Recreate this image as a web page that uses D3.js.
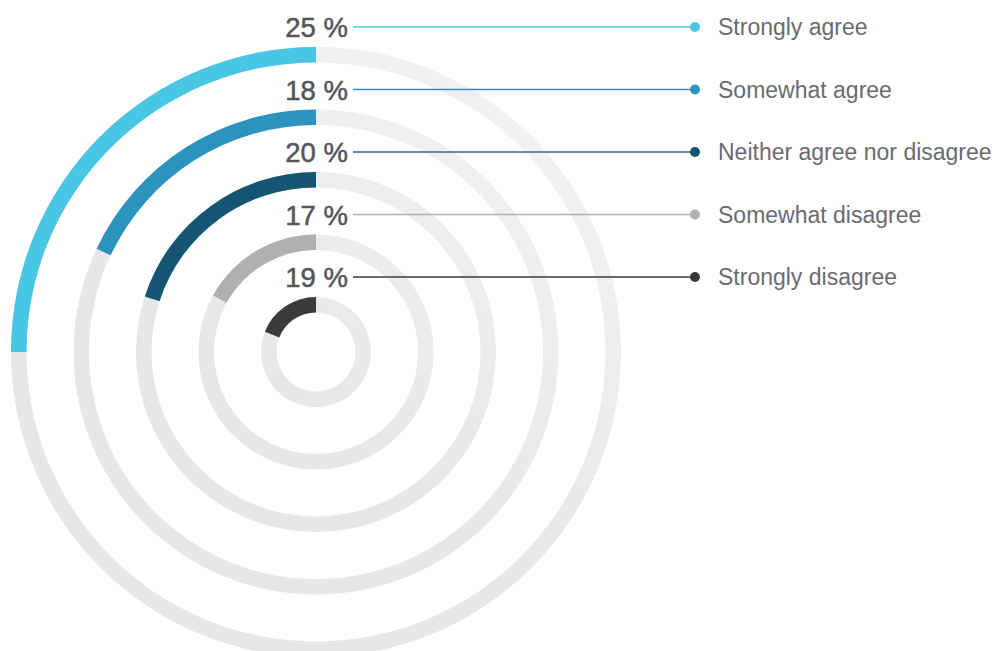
<!DOCTYPE html>
<html>
<head>
<meta charset="utf-8">
<script src="https://cdn.jsdelivr.net/npm/d3@7"></script>
<style>
  html, body { margin: 0; padding: 0; background: #fff; }
  svg { display: block; }
</style>
</head>
<body>
<svg id="chart" width="996" height="651"></svg>
<script>
// données
const categories = ["Strongly agree", "Somewhat agree", "Neither agree nor disagree", "Somewhat disagree", "Strongly disagree"];
const values = [25, 18, 20, 17, 19];
const colors = ["#48c6e3", "#2a94bf", "#135572", "#b0b0b0", "#3b3b3b"];
const lineColors = ["#48c6e3", "#2a94bf", "#2f6c86", "#b0b0b0", "#3b3b3b"];

const width = 996, height = 651;
const cx = 316, cy = 352;
const thickness = 15.5;

const svg = d3.select("#chart");

// dégradé des pistes grises
const defs = svg.append("defs");
const grad = defs.append("linearGradient")
  .attr("id", "track")
  .attr("gradientUnits", "userSpaceOnUse")
  .attr("x1", 560).attr("y1", 60)
  .attr("x2", 300).attr("y2", 420);
grad.append("stop").attr("offset", "0").attr("stop-color", "#f4f4f5");
grad.append("stop").attr("offset", "1").attr("stop-color", "#e6e7e9");

// échelles
const radius = d3.scaleLinear().domain([0, categories.length - 1]).range([305, 55]);
const angle = d3.scaleLinear().domain([0, 100]).range([0, -2 * Math.PI]);

const arc = d3.arc()
  .innerRadius(d => radius(d.i) - thickness)
  .outerRadius(d => radius(d.i))
  .startAngle(d => d.start)
  .endAngle(d => d.end);

const rows = categories.map((c, i) => ({name: c, value: values[i], i: i}));

const g = svg.append("g").attr("transform", `translate(${cx},${cy})`);

// pistes
g.selectAll("path.track")
  .data(rows)
  .enter()
  .append("path")
  .attr("class", "track")
  .attr("fill", "url(#track)")
  .attr("transform", `translate(${-cx},${-cy})`)
  .attr("d", d => {
    // chemin dans le repère de la page pour que le dégradé suive
    const p = d3.path();
    const ro = radius(d.i), ri = ro - thickness;
    p.moveTo(cx + ro, cy);
    p.arc(cx, cy, ro, 0, 2 * Math.PI);
    p.moveTo(cx + ri, cy);
    p.arc(cx, cy, ri, 0, 2 * Math.PI, true);
    return p.toString();
  })
  .attr("fill-rule", "evenodd");

// arcs de valeurs
g.selectAll("path.value")
  .data(rows)
  .enter()
  .append("path")
  .attr("class", "value")
  .attr("fill", d => colors[d.i])
  .attr("d", d => arc({i: d.i, start: angle(d.value), end: 0}));

// étiquettes
const labelY = d => cy - radius(d.i) - 20;

svg.selectAll("line.leader")
  .data(rows)
  .enter()
  .append("line")
  .attr("class", "leader")
  .attr("x1", 353).attr("x2", 695)
  .attr("y1", labelY).attr("y2", labelY)
  .attr("stroke", d => lineColors[d.i])
  .attr("stroke-width", 1.6);

svg.selectAll("circle.dot")
  .data(rows)
  .enter()
  .append("circle")
  .attr("class", "dot")
  .attr("cx", 695)
  .attr("cy", labelY)
  .attr("r", 5)
  .attr("fill", d => colors[d.i]);

svg.selectAll("text.pct")
  .data(rows)
  .enter()
  .append("text")
  .attr("class", "pct")
  .attr("x", 348)
  .attr("y", d => labelY(d) + 10)
  .attr("text-anchor", "end")
  .attr("font-family", "Liberation Sans, Arial, sans-serif")
  .attr("font-size", 27.5)
  .attr("fill", "#55555a")
  .attr("stroke", "#55555a")
  .attr("stroke-width", 0.5)
  .text(d => d.value + "\u2009\u200a%");

svg.selectAll("text.name")
  .data(rows)
  .enter()
  .append("text")
  .attr("class", "name")
  .attr("x", 718)
  .attr("y", d => labelY(d) + 8)
  .attr("font-family", "Liberation Sans, Arial, sans-serif")
  .attr("font-size", 23)
  .attr("fill", "#6b6b70")
  .text(d => d.name);
</script>
</body>
</html>
